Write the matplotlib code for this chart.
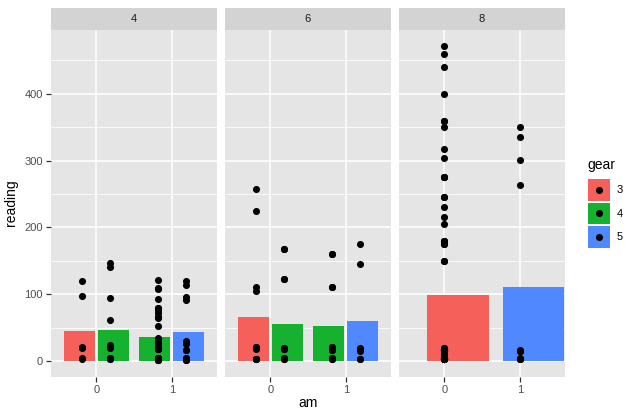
import numpy as np
import matplotlib
matplotlib.use("Agg")
import matplotlib.pyplot as plt
from matplotlib.patches import Rectangle

# ---- data (mtcars: mpg, disp, hp, drat, wt, qsec in long form) ----
car_cyl = [6, 6, 4, 6, 8, 6, 8, 4, 4, 6, 6, 8, 8, 8, 8, 8, 8, 4, 4, 4, 4, 8, 8, 8, 8, 4, 4, 4, 8, 6, 8, 4]
car_am = [1, 1, 1, 0, 0, 0, 0, 0, 0, 0, 0, 0, 0, 0, 0, 0, 0, 1, 1, 1, 0, 0, 0, 0, 0, 1, 1, 1, 1, 1, 1, 1]
car_gear = [4, 4, 4, 3, 3, 3, 3, 4, 4, 4, 4, 3, 3, 3, 3, 3, 3, 4, 4, 4, 3, 3, 3, 3, 3, 4, 5, 5, 5, 5, 5, 4]
mpg = [21.0, 21.0, 22.8, 21.4, 18.7, 18.1, 14.3, 24.4, 22.8, 19.2, 17.8, 16.4, 17.3, 15.2, 10.4, 10.4,
       14.7, 32.4, 30.4, 33.9, 21.5, 15.5, 15.2, 13.3, 19.2, 27.3, 26.0, 30.4, 15.8, 19.7, 15.0, 21.4]
disp = [160.0, 160.0, 108.0, 258.0, 360.0, 225.0, 360.0, 146.7, 140.8, 167.6, 167.6, 275.8, 275.8, 275.8,
        472.0, 460.0, 440.0, 78.7, 75.7, 71.1, 120.1, 318.0, 304.0, 350.0, 400.0, 79.0, 120.3, 95.1,
        351.0, 145.0, 301.0, 121.0]
hp = [110, 110, 93, 110, 175, 105, 245, 62, 95, 123, 123, 180, 180, 180, 205, 215, 230, 66, 52, 65, 97,
      150, 150, 245, 175, 66, 91, 113, 264, 175, 335, 109]
drat = [3.90, 3.90, 3.85, 3.08, 3.15, 2.76, 3.21, 3.69, 3.92, 3.92, 3.92, 3.07, 3.07, 3.07, 2.93, 3.00,
        3.23, 4.08, 4.93, 4.22, 3.70, 2.76, 3.15, 3.73, 3.08, 4.08, 4.43, 3.77, 4.22, 3.62, 3.54, 4.11]
wt = [2.620, 2.875, 2.320, 3.215, 3.440, 3.460, 3.570, 3.190, 3.150, 3.440, 3.440, 4.070, 3.730, 3.780,
      5.250, 5.424, 5.345, 2.200, 1.615, 1.835, 2.465, 3.520, 3.435, 3.840, 3.845, 1.935, 2.140, 1.513,
      3.170, 2.770, 3.570, 2.780]
qsec = [16.46, 17.02, 18.61, 19.44, 17.02, 20.22, 15.84, 20.00, 22.90, 18.30, 18.90, 17.40, 17.60, 18.00,
        17.98, 17.82, 17.42, 19.47, 18.52, 19.90, 20.01, 16.87, 17.30, 15.41, 17.05, 18.90, 16.70, 16.90,
        14.50, 15.50, 14.60, 18.60]
variables = [mpg, disp, hp, drat, wt, qsec]

facet_levels = [4, 6, 8]
am_levels = [0, 1]
gear_levels = [3, 4, 5]
gear_colors = ["#F5605A", "#16B12E", "#5088FF"]
y_ticks = [0, 100, 200, 300, 400]

# ---- long format ----
cyl_a = np.array(car_cyl); am_a = np.array(car_am); gear_a = np.array(car_gear)
vals = np.array(variables, dtype=float)  # shape (6, 32)

# ---- layout ----
W, H = 639, 419
fig = plt.figure(figsize=(W / 100, H / 100), dpi=100)
FONT = "Liberation Sans"
TICK_FS = 8.0
TITLE_FS = 10.0

def frac(x0, y0, x1, y1):
    return [x0 / W, 1 - y1 / H, (x1 - x0) / W, (y1 - y0) / H]

panel_left = [51, 225, 399]
panel_w = 166
p_top, p_bot = 30, 376.7
s_top = 7.5

ymax = max(vals.max(), 0)
ymin = 0
yr = ymax - ymin
ylim = (ymin - 0.05 * yr, ymax + 0.05 * yr)

SINGLE_BAR_WIDTH = 0.815
SINGLE_BAR_SHIFT = 0.18

for pi, cyl in enumerate(facet_levels):
    x0 = panel_left[pi]
    ax = fig.add_axes(frac(x0, p_top, x0 + panel_w, p_bot))
    ax.set_facecolor("#E5E5E5")
    for s in ax.spines.values():
        s.set_visible(False)
    ax.set_xlim(-0.6, 1.6)
    ax.set_ylim(*ylim)
    for yv in np.arange(50, 500, 100):
        ax.axhline(yv, color="white", lw=0.6, zorder=0.5)
    for yv in y_ticks:
        ax.axhline(yv, color="white", lw=1.15, zorder=0.6)
    for xv in am_levels:
        ax.axvline(xv, color="white", lw=1.15, zorder=0.6)

    for am in am_levels:
        present = [g for g in gear_levels if np.any((cyl_a == cyl) & (am_a == am) & (gear_a == g))]
        n = len(present)
        for i, g in enumerate(present):
            mask = (cyl_a == cyl) & (am_a == am) & (gear_a == g)
            gvals = vals[:, mask].ravel()
            mean = gvals.mean()
            if n > 1:
                slot = 0.9 / n
                bw = slot * 0.9
                bc = am + (i - (n - 1) / 2) * slot
            else:
                bw = SINGLE_BAR_WIDTH
                bc = am + SINGLE_BAR_SHIFT
            ax.bar(bc, mean, width=bw, color=gear_colors[gear_levels.index(g)], zorder=1)
            px = am + (i - (n - 1) / 2) * 0.75 / n
            ax.scatter(np.full(gvals.size, px), gvals, s=26, color="black", zorder=3, linewidths=0)

    ax.set_xticks(am_levels)
    ax.set_xticklabels([str(a) for a in am_levels], fontsize=TICK_FS, color="#4D4D4D", family=FONT)
    ax.tick_params(axis="both", length=3.7, width=0.9, color="#333333", pad=2)
    ax.set_yticks(y_ticks)
    if pi == 0:
        ax.set_yticklabels([str(v) for v in y_ticks], fontsize=TICK_FS, color="#4D4D4D", family=FONT)
    else:
        ax.tick_params(axis="y", length=0, labelleft=False)

    sax = fig.add_axes(frac(x0, s_top, x0 + panel_w, p_top))
    sax.set_facecolor("#D3D3D3")
    sax.set_xticks([]); sax.set_yticks([])
    for s in sax.spines.values():
        s.set_visible(False)
    sax.text(0.5, 0.5, str(cyl), ha="center", va="center", fontsize=TICK_FS, color="#1A1A1A",
             family=FONT, transform=sax.transAxes)

fig.text(308 / W, 1 - 403 / H, "am", ha="center", va="center", fontsize=TITLE_FS, color="black", family=FONT)
fig.text(11 / W, 1 - 203 / H, "reading", ha="center", va="center", rotation=90, fontsize=TITLE_FS,
         color="black", family=FONT)

# ---- legend ----
fig.text(587 / W, 1 - 165 / H, "gear", ha="left", va="center", fontsize=TITLE_FS, color="black", family=FONT)
key_tops = [179, 202.7, 226.4]
for g, kt, col in zip(gear_levels, key_tops, gear_colors):
    kax = fig.add_axes(frac(588, kt, 610, kt + 21.6))
    kax.set_xlim(0, 1); kax.set_ylim(0, 1)
    kax.add_patch(Rectangle((0, 0), 1, 1, color=col))
    kax.scatter([0.5], [0.5], s=26, color="black", linewidths=0)
    kax.axis("off")
    fig.text(617 / W, 1 - (kt + 10.8) / H, str(g), ha="left", va="center", fontsize=TICK_FS,
             color="black", family=FONT)

fig.savefig("out.png", dpi=100)
